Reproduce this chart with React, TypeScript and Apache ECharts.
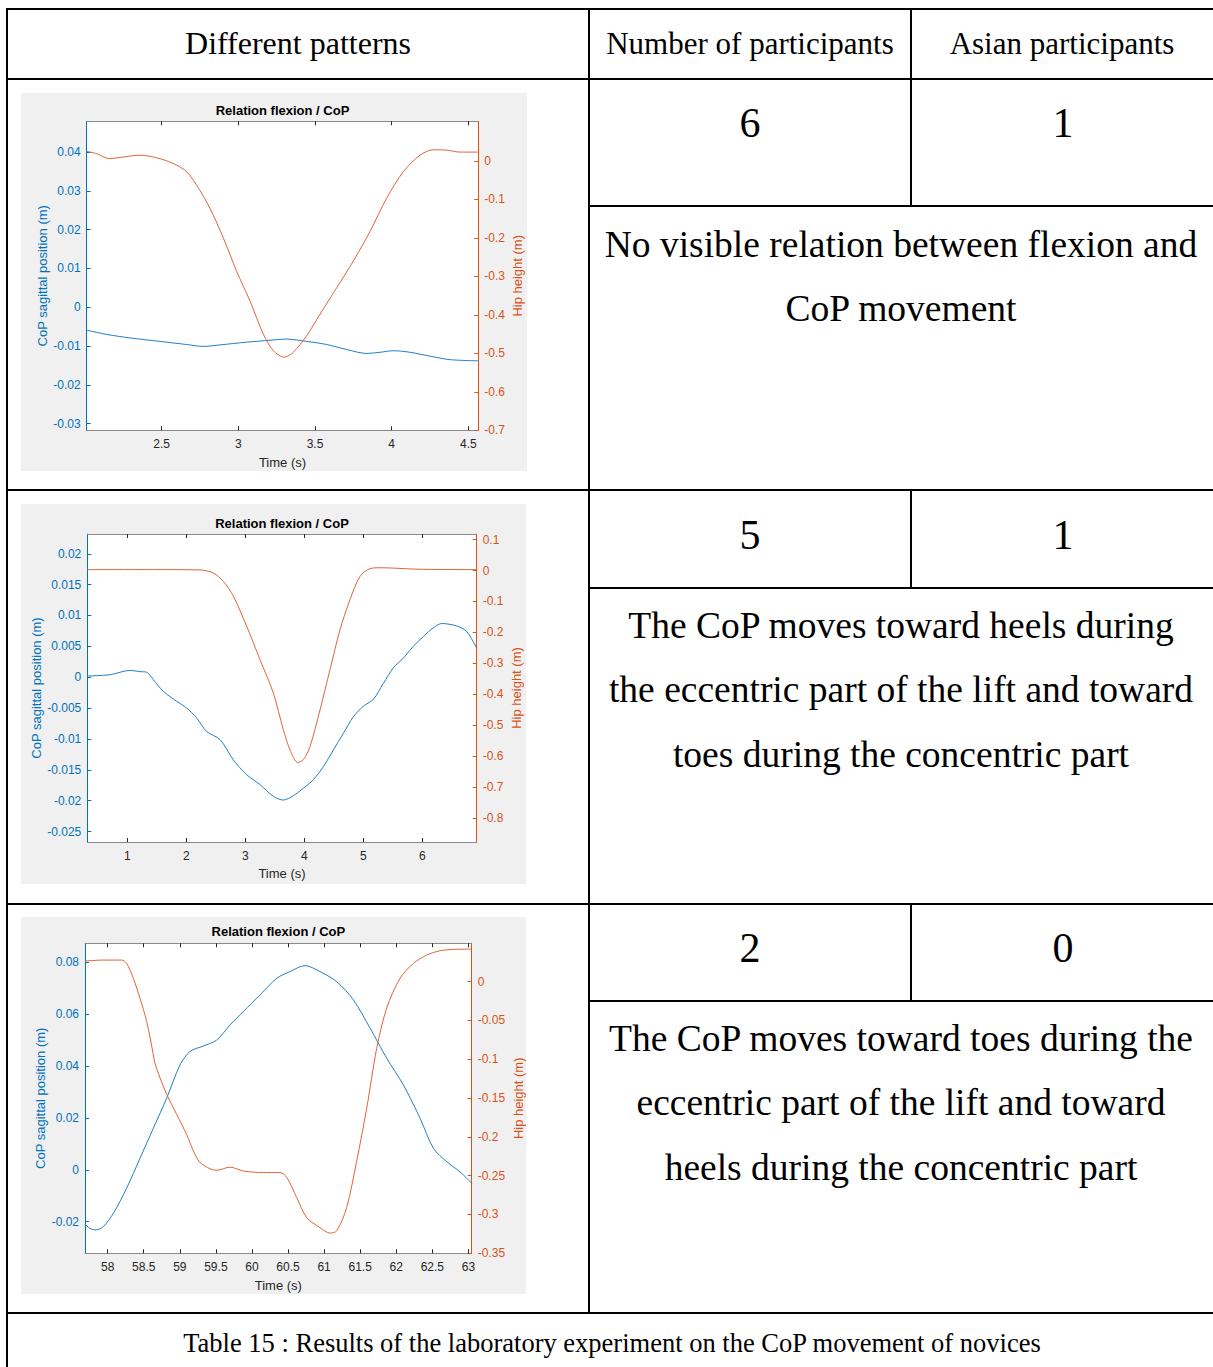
import React, { useEffect, useRef } from "react";
import * as echarts from "echarts";

const BLUE = "#0072BD";
const ORANGE = "#D95319";
const DARK = "#262626";
const SANS = "'Liberation Sans', Arial, Helvetica, sans-serif";
const SERIF = "'Liberation Serif', 'Times New Roman', serif";

// ---------- Table content ----------
const headers = ["Different patterns", "Number of participants", "Asian participants"];
const participants = ["6", "5", "2"];
const asianParticipants = ["1", "1", "0"];
const descriptions = [
  ["No visible relation between flexion and", "CoP movement"],
  ["The CoP moves toward heels during", "the eccentric part of the lift and toward", "toes during the concentric part"],
  ["The CoP moves toward toes during the", "eccentric part of the lift and toward", "heels during the concentric part"],
];
const caption = "Table 15 : Results of the laboratory experiment on the CoP movement of novices";
const chartTitle = "Relation flexion / CoP";
const copAxisName = "CoP sagittal position (m)";
const hipAxisName = "Hip height (m)";
const timeAxisName = "Time (s)";

// ---------- Chart 1 ----------
const x1Ticks = [2.5, 3, 3.5, 4, 4.5];
const cop1Ticks = [-0.03, -0.02, -0.01, 0, 0.01, 0.02, 0.03, 0.04];
const hip1Ticks = [-0.7, -0.6, -0.5, -0.4, -0.3, -0.2, -0.1, 0];
const hip1T = [2.011, 2.076, 2.159, 2.228, 2.359, 2.489, 2.598, 2.663, 2.728, 2.815, 2.902, 2.989, 3.076, 3.163, 3.228, 3.3, 3.359, 3.446, 3.533, 3.641, 3.75, 3.859, 3.967, 4.076, 4.185, 4.272, 4.359, 4.446, 4.565];
const hip1 = [0.025, 0.019, 0.006, 0.009, 0.015, 0.006, -0.011, -0.028, -0.063, -0.123, -0.2, -0.287, -0.364, -0.45, -0.493, -0.51, -0.497, -0.454, -0.398, -0.33, -0.26, -0.183, -0.097, -0.028, 0.015, 0.029, 0.028, 0.023, 0.023];
const cop1T = [2.011, 2.141, 2.293, 2.489, 2.663, 2.772, 2.88, 3.054, 3.207, 3.315, 3.446, 3.576, 3.707, 3.837, 3.924, 4.011, 4.12, 4.25, 4.38, 4.565];
const cop1 = [-0.0059, -0.007, -0.0079, -0.0088, -0.0096, -0.0101, -0.0097, -0.009, -0.0085, -0.0082, -0.0088, -0.0096, -0.0109, -0.0119, -0.0116, -0.0112, -0.0116, -0.0126, -0.0135, -0.0138];

// ---------- Chart 2 ----------
const x2Ticks = [1, 2, 3, 4, 5, 6];
const cop2Ticks = [-0.025, -0.02, -0.015, -0.01, -0.005, 0, 0.005, 0.01, 0.015, 0.02];
const hip2Ticks = [-0.8, -0.7, -0.6, -0.5, -0.4, -0.3, -0.2, -0.1, 0, 0.1];
const hip2T = [0.322, 1.441, 2.232, 2.458, 2.627, 2.797, 3.023, 3.249, 3.475, 3.644, 3.757, 3.887, 3.983, 4.096, 4.266, 4.435, 4.605, 4.774, 4.944, 5.113, 5.282, 5.96, 6.921];
const hip2 = [0.003, 0.003, 0.002, -0.008, -0.035, -0.083, -0.18, -0.288, -0.396, -0.514, -0.579, -0.62, -0.611, -0.569, -0.45, -0.32, -0.191, -0.094, -0.019, 0.006, 0.009, 0.004, 0.003];
const cop2T = [0.322, 0.706, 1.045, 1.215, 1.328, 1.441, 1.61, 1.836, 2.006, 2.175, 2.345, 2.571, 2.797, 3.023, 3.249, 3.475, 3.644, 3.814, 3.983, 4.153, 4.322, 4.492, 4.661, 4.831, 5.0, 5.169, 5.339, 5.508, 5.678, 5.847, 6.017, 6.186, 6.328, 6.582, 6.751, 6.921];
const cop2 = [0.0002, 0.0004, 0.0011, 0.0009, 0.0008, -0.0004, -0.0023, -0.0039, -0.005, -0.0066, -0.0088, -0.0101, -0.0134, -0.0158, -0.0174, -0.0193, -0.0199, -0.0192, -0.018, -0.0166, -0.0145, -0.0118, -0.0091, -0.0064, -0.0047, -0.0036, -0.001, 0.0015, 0.0031, 0.005, 0.0066, 0.008, 0.0087, 0.0083, 0.0074, 0.0047];

// ---------- Chart 3 ----------
const x3Ticks = [58, 58.5, 59, 59.5, 60, 60.5, 61, 61.5, 62, 62.5, 63];
const cop3Ticks = [-0.02, 0, 0.02, 0.04, 0.06, 0.08];
const hip3Ticks = [-0.35, -0.3, -0.25, -0.2, -0.15, -0.1, -0.05, 0];
const hip3T = [57.686, 57.94, 58.194, 58.263, 58.356, 58.448, 58.541, 58.633, 58.656, 58.726, 58.818, 58.957, 59.095, 59.188, 59.28, 59.419, 59.511, 59.696, 59.881, 60.158, 60.389, 60.481, 60.62, 60.759, 60.944, 61.082, 61.175, 61.313, 61.452, 61.591, 61.729, 61.868, 62.053, 62.238, 62.422, 62.607, 62.792, 63.046];
const hip3 = [0.0265, 0.0278, 0.0278, 0.0235, 0.0043, -0.0214, -0.0513, -0.094, -0.105, -0.124, -0.145, -0.171, -0.197, -0.218, -0.233, -0.241, -0.243, -0.239, -0.244, -0.246, -0.246, -0.252, -0.278, -0.304, -0.317, -0.324, -0.321, -0.291, -0.231, -0.163, -0.086, -0.034, 0.0043, 0.0235, 0.0342, 0.0398, 0.0415, 0.0419];
const cop3T = [57.686, 57.755, 57.838, 57.94, 58.079, 58.263, 58.448, 58.633, 58.818, 59.003, 59.141, 59.326, 59.511, 59.696, 59.881, 60.112, 60.343, 60.528, 60.736, 60.944, 61.175, 61.406, 61.637, 61.868, 62.099, 62.33, 62.515, 62.7, 62.884, 63.046];
const cop3 = [-0.021, -0.0226, -0.0232, -0.0219, -0.0168, -0.0071, 0.0044, 0.016, 0.0276, 0.0404, 0.0456, 0.0477, 0.05, 0.0558, 0.061, 0.0674, 0.0738, 0.0764, 0.0787, 0.0764, 0.0725, 0.0655, 0.0546, 0.043, 0.0327, 0.0199, 0.0083, 0.0031, -0.0008, -0.0052];

// ---------- Axis ranges ----------
const xRanges = [[2.011, 4.565], [0.322, 6.921], [57.686, 63.046]];
const copRanges = [[-0.0317, 0.0479], [-0.0267, 0.0232], [-0.0322, 0.0873]];
const hipRanges = [[-0.7, 0.103], [-0.877, 0.118], [-0.35, 0.0494]];

const zip = (a: number[], b: number[]) => a.map((v, i) => [v, b[i]]);

const panelData = [
  { xTicks: x1Ticks, copTicks: cop1Ticks, hipTicks: hip1Ticks, hipT: hip1T, hip: hip1, copT: cop1T, cop: cop1 },
  { xTicks: x2Ticks, copTicks: cop2Ticks, hipTicks: hip2Ticks, hipT: hip2T, hip: hip2, copT: cop2T, cop: cop2 },
  { xTicks: x3Ticks, copTicks: cop3Ticks, hipTicks: hip3Ticks, hipT: hip3T, hip: hip3, copT: cop3T, cop: cop3 },
];

// layout (pixels)
const panelLayout = [
  { left: 86.7, top: 121.3, width: 391.6, height: 309, bg: [21, 93, 506, 378], titleY: 110, timeY: 462, copX: 42, hipX: 517 },
  { left: 87.3, top: 534, width: 389.4, height: 308, bg: [21, 504, 505, 380], titleY: 523, timeY: 873, copX: 36, hipX: 516 },
  { left: 85, top: 943.3, width: 386.7, height: 310, bg: [21, 917, 505, 377], titleY: 931, timeY: 1285, copX: 40, hipX: 518 },
];

const rowTops = [79, 490, 904];
const subLines = [206, 588, 1001];
const numberY = [123, 535, 948];
const descFirstY = [244, 625, 1038];
const lineGap = 64.5;

function buildOption() {
  const grids: any[] = [];
  const xAxes: any[] = [];
  const yAxes: any[] = [];
  const series: any[] = [];
  const graphics: any[] = [];

  panelData.forEach((p, i) => {
    const L = panelLayout[i];
    grids.push({ left: L.left, top: L.top, width: L.width, height: L.height, show: true, backgroundColor: "#ffffff", borderWidth: 0 });
    const [xmin, xmax] = xRanges[i];
    const xBase = {
      gridIndex: i, type: "value", min: xmin, max: xmax,
      splitLine: { show: false },
      axisLine: { show: true, onZero: false, lineStyle: { color: "#8a8a8a", width: 1 } },
    };
    xAxes.push({
      ...xBase, position: "bottom",
      axisTick: { show: true, inside: true, length: 4, customValues: p.xTicks, lineStyle: { color: DARK } },
      axisLabel: { show: true, customValues: p.xTicks, color: DARK, fontSize: 12, fontFamily: SANS, margin: 8, formatter: (v: number) => String(v) },
    });
    xAxes.push({
      ...xBase, position: "top",
      axisTick: { show: true, inside: true, length: 4, customValues: p.xTicks, lineStyle: { color: DARK } },
      axisLabel: { show: false },
    });
    const [cmin, cmax] = copRanges[i];
    yAxes.push({
      gridIndex: i, type: "value", min: cmin, max: cmax, position: "left",
      splitLine: { show: false },
      axisLine: { show: true, onZero: false, lineStyle: { color: BLUE, width: 1 } },
      axisTick: { show: true, inside: true, length: 4, customValues: p.copTicks, lineStyle: { color: BLUE } },
      axisLabel: { show: true, customValues: p.copTicks, color: BLUE, fontSize: 12, fontFamily: SANS, margin: 6, formatter: (v: number) => String(v) },
    });
    const [hmin, hmax] = hipRanges[i];
    yAxes.push({
      gridIndex: i, type: "value", min: hmin, max: hmax, position: "right",
      splitLine: { show: false },
      axisLine: { show: true, onZero: false, lineStyle: { color: ORANGE, width: 1 } },
      axisTick: { show: true, inside: true, length: 4, customValues: p.hipTicks, lineStyle: { color: ORANGE } },
      axisLabel: { show: true, customValues: p.hipTicks, color: ORANGE, fontSize: 12, fontFamily: SANS, margin: 6, formatter: (v: number) => String(v) },
    });
    series.push({
      type: "line", xAxisIndex: 2 * i, yAxisIndex: 2 * i, data: zip(p.copT, p.cop),
      showSymbol: false, smooth: 0.3, lineStyle: { color: "#1f7fc6", width: 1 }, silent: true,
    });
    series.push({
      type: "line", xAxisIndex: 2 * i, yAxisIndex: 2 * i + 1, data: zip(p.hipT, p.hip),
      showSymbol: false, smooth: 0.3, lineStyle: { color: "#e06435", width: 1 }, silent: true,
    });

    const [bx, by, bw, bh] = L.bg;
    graphics.push({ type: "rect", z: -10, shape: { x: bx, y: by, width: bw, height: bh }, style: { fill: "#f0f0f0" } });
    const cx = L.left + L.width / 2;
    const cy = L.top + L.height / 2;
    graphics.push({ type: "text", x: cx, y: L.titleY, style: { text: chartTitle, fill: "#000", fontSize: 13, fontWeight: "bold", fontFamily: SANS, align: "center", verticalAlign: "middle", textAlign: "center", textVerticalAlign: "middle" } });
    graphics.push({ type: "text", x: cx, y: L.timeY, style: { text: timeAxisName, fill: DARK, fontSize: 13, fontFamily: SANS, align: "center", verticalAlign: "middle", textAlign: "center", textVerticalAlign: "middle" } });
    graphics.push({ type: "text", x: L.copX, y: cy, rotation: Math.PI / 2, style: { text: copAxisName, fill: BLUE, fontSize: 13, fontFamily: SANS, align: "center", verticalAlign: "middle", textAlign: "center", textVerticalAlign: "middle" } });
    graphics.push({ type: "text", x: L.hipX, y: cy, rotation: Math.PI / 2, style: { text: hipAxisName, fill: ORANGE, fontSize: 13, fontFamily: SANS, align: "center", verticalAlign: "middle", textAlign: "center", textVerticalAlign: "middle" } });
  });

  // table lines
  const line = (x1: number, y1: number, x2: number, y2: number) => ({
    type: "line", z: 10, shape: { x1, y1, x2, y2 }, style: { stroke: "#000", lineWidth: 2 },
  });
  const xL = 7, xC1 = 589, xC2 = 911, xR = 1213;
  graphics.push(line(xL - 1, 9, xR, 9));
  graphics.push(line(xL, 9, xL, 1367));
  graphics.push(line(xC1, 9, xC1, 1313));
  graphics.push(line(xL, 79, xR, 79));
  [490, 904, 1313].forEach((y) => graphics.push(line(xL, y, xR, y)));
  subLines.forEach((y) => graphics.push(line(xC1, y, xR, y)));
  graphics.push(line(xC2, 9, xC2, 79));
  rowTops.forEach((t, i) => graphics.push(line(xC2, t, xC2, subLines[i])));

  const txt = (text: string, x: number, y: number, size: number) => ({
    type: "text", z: 10, x, y,
    style: { text, fill: "#000", fontSize: size, fontFamily: SERIF, align: "center", verticalAlign: "middle", textAlign: "center", textVerticalAlign: "middle" },
  });
  graphics.push(txt(headers[0], (xL + xC1) / 2, 43, 32));
  graphics.push(txt(headers[1], (xC1 + xC2) / 2, 43, 31));
  graphics.push(txt(headers[2], (xC2 + xR) / 2, 43, 31));
  participants.forEach((v, i) => graphics.push(txt(v, (xC1 + xC2) / 2, numberY[i], 42)));
  asianParticipants.forEach((v, i) => graphics.push(txt(v, (xC2 + xR) / 2 + 1, numberY[i], 42)));
  descriptions.forEach((lines, i) =>
    lines.forEach((l, j) => graphics.push(txt(l, (xC1 + xR) / 2, descFirstY[i] + j * lineGap, 37.5)))
  );
  graphics.push(txt(caption, 612, 1343, 26.5));

  return {
    animation: false,
    backgroundColor: "#ffffff",
    grid: grids,
    xAxis: xAxes,
    yAxis: yAxes,
    series,
    graphic: { elements: graphics },
  };
}

export default function App() {
  const ref = useRef<HTMLDivElement>(null);
  useEffect(() => {
    if (!ref.current) return;
    const chart = echarts.init(ref.current, undefined, { renderer: "svg" });
    chart.setOption(buildOption() as any);
    return () => chart.dispose();
  }, []);
  return <div ref={ref} style={{ position: "absolute", left: 0, top: 0, width: 1213, height: 1367 }} />;
}
